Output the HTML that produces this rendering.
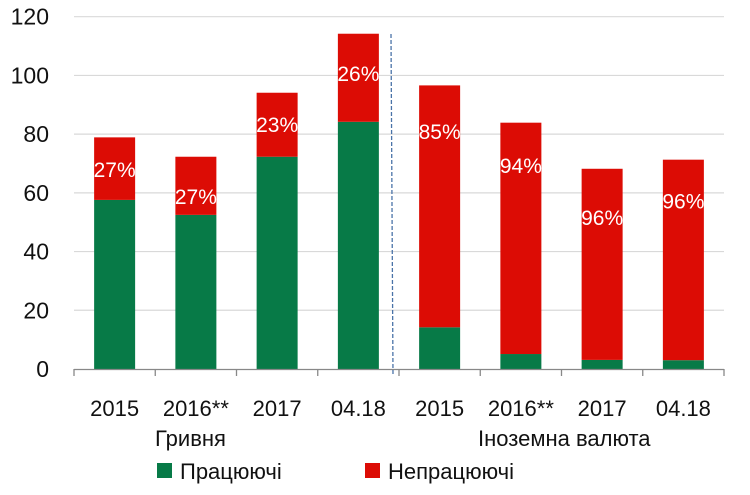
<!DOCTYPE html>
<html><head><meta charset="utf-8"><style>
body{margin:0;background:#fff;}
svg{display:block;font-family:"Liberation Sans Narrow","Liberation Sans",sans-serif;}
</style></head><body>
<svg id="chart" width="750" height="495" viewBox="0 0 750 495" xmlns="http://www.w3.org/2000/svg">
<g id="grid"></g>
<g id="yticks"></g>
<g id="bars"></g>
<g id="xaxis"></g>
<line x1="391" y1="34" x2="393" y2="376" stroke="#4a73a8" stroke-width="1.3" stroke-dasharray="4,2"/>
<text x="155" y="446" font-size="22" fill="#111">Гривня</text>
<text x="478" y="446" font-size="22" fill="#111">Іноземна валюта</text>
<g>
<rect x="157" y="463" width="15" height="15" fill="#077a47"/>
<text x="180" y="479" font-size="22" fill="#111">Працюючі</text>
<rect x="365" y="463" width="15" height="15" fill="#dc0c05"/>
<text x="388" y="479" font-size="22" fill="#111">Непрацюючі</text>
</g>
</svg>
<script>
const categories=["2015","2016**","2017","04.18","2015","2016**","2017","04.18"];
const performing=[57.6,52.5,72.3,84.2,14.2,5.1,3.1,3.0];
const totals=[78.9,72.3,94.1,114.2,96.6,83.9,68.2,71.3];
const pctLabels=["27%","27%","23%","26%","85%","94%","96%","96%"];
const pctLabelPos=[67.8,58.6,83.1,100.4,80.7,69.2,51.4,57];
const yTicks=[0,20,40,60,80,100,120];
const NS="http://www.w3.org/2000/svg";
const x0=74,x1=724,yZero=369,yTop=16.7,yMax=120;
const band=(x1-x0)/categories.length,barW=41;
const y=v=>yZero-(v/yMax)*(yZero-yTop);
const cx=i=>x0+band*(i+0.5);
function mk(tag,attrs,parent){const e=document.createElementNS(NS,tag);for(const k in attrs)e.setAttribute(k,attrs[k]);parent.appendChild(e);return e;}
const grid=document.getElementById('grid'),yt=document.getElementById('yticks'),bars=document.getElementById('bars'),xa=document.getElementById('xaxis');
yTicks.forEach(t=>{
 if(t>0){const l=mk('line',{x1:x0,x2:x1,y1:y(t),y2:y(t),stroke:'#d9d9d9','stroke-width':1.2},grid);
 
 }
 const tx=mk('text',{x:49,y:y(t)+8,'font-size':23,'text-anchor':'end',fill:'#111'},yt);
 tx.textContent=t;
 
 
});
const ax=mk('line',{x1:x0,x2:x1,y1:yZero+0.5,y2:yZero+0.5,stroke:'#888','stroke-width':1.3},xa);


for(let i=0;i<=categories.length;i++){
 const tk=mk('line',{x1:x0+band*i,x2:x0+band*i,y1:yZero,y2:yZero+7,stroke:'#888','stroke-width':1.3},xa);
 
 
}
categories.forEach((c,i)=>{
 const x=cx(i)-barW/2;
 const g=mk('rect',{x:x,y:y(performing[i]),width:barW,height:yZero-y(performing[i]),fill:'#077a47'},bars);
 
 
 const r=mk('rect',{x:x,y:y(totals[i]),width:barW,height:y(performing[i])-y(totals[i]),fill:'#dc0c05'},bars);
 
 
 const p=mk('text',{x:cx(i),y:y(pctLabelPos[i])+7,'font-size':21,'text-anchor':'middle',fill:'#fff'},bars);
 p.textContent=pctLabels[i];
 
 
 const t=mk('text',{x:cx(i),y:416,'font-size':22,'text-anchor':'middle',fill:'#111'},xa);
 t.textContent=c;
 
 
});
</script>
</body></html>
